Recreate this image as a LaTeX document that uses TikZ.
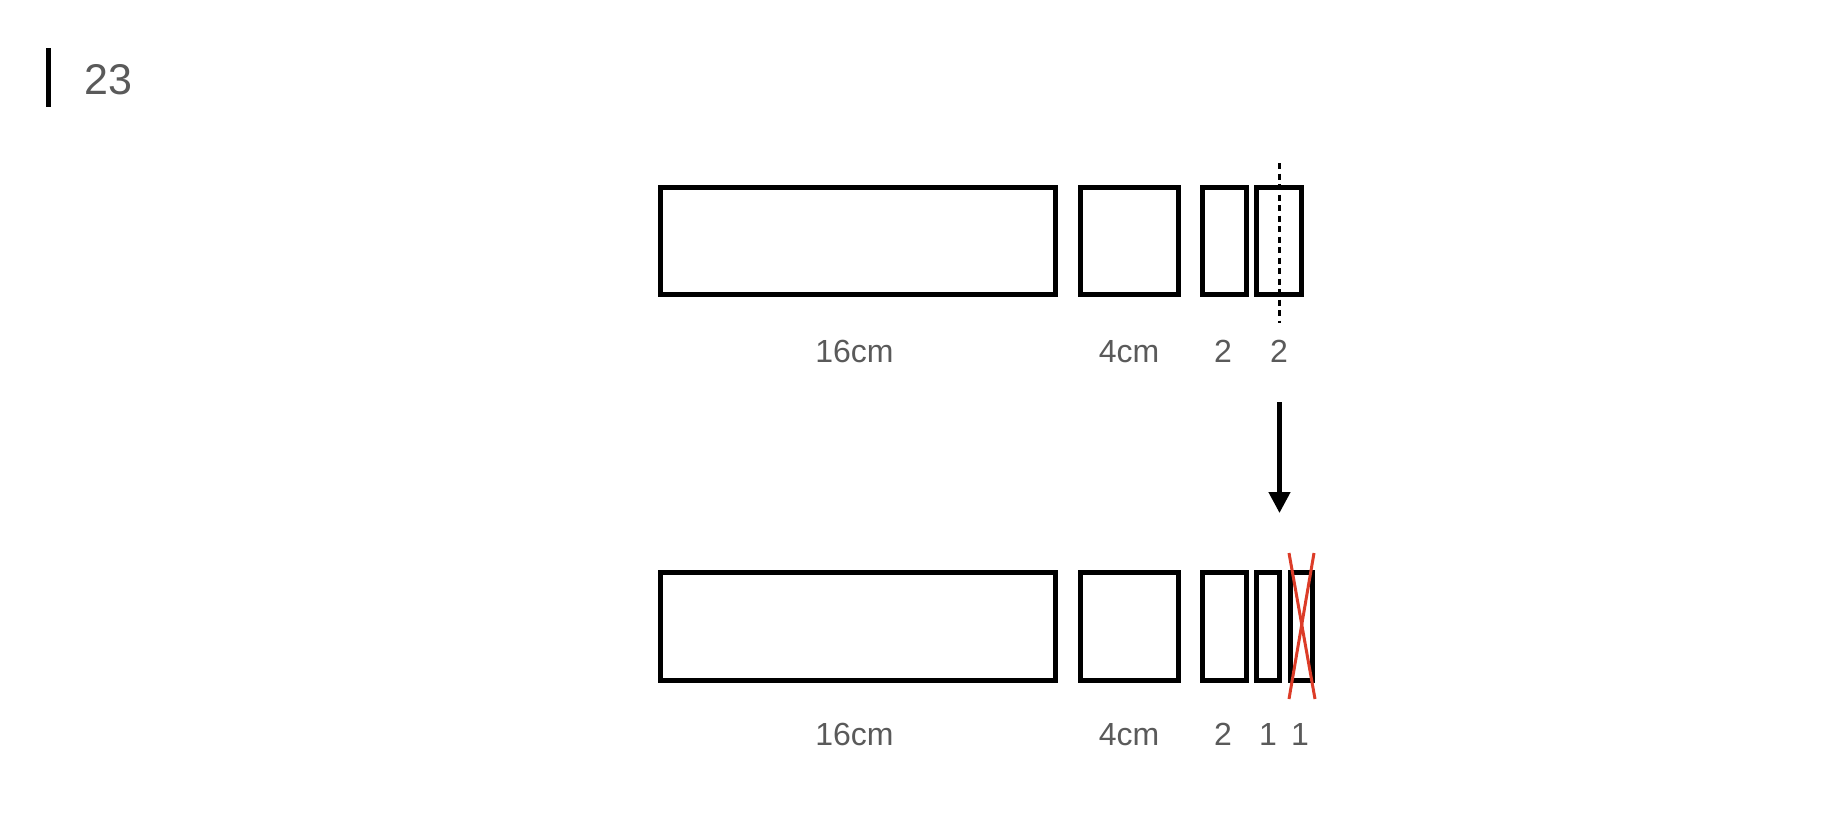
\documentclass[tikz,border=0pt]{standalone}
\usepackage{fontspec}
\setmainfont{Liberation Sans}
\usetikzlibrary{arrows.meta}
\definecolor{txtgray}{HTML}{5A5A5A}
\definecolor{crossred}{HTML}{DC3C28}
\begin{document}
\begin{tikzpicture}[x=1pt,y=-1pt,
  bar/.style={draw=black,line width=5pt,inner sep=0pt,outer sep=0pt},
  lbl/.style={text=txtgray,font=\fontsize{32}{38}\selectfont,anchor=base,inner sep=0pt},
  cutline/.style={draw=black,line width=3pt,dash pattern=on 6pt off 4.5pt},
  crossline/.style={draw=crossred,line width=3pt},
  downarrow/.style={draw=black,line width=4.5pt,-{Triangle[length=21pt,width=21pt]}}]
\useasboundingbox (0,0) rectangle (1848,812);
% header
\coordinate (hb1) at (48.5,48);
\coordinate (hb2) at (48.5,107);
\draw[line width=5pt] (hb1) -- (hb2);
\node[text=txtgray,font=\fontsize{43}{50}\selectfont,anchor=base west,inner sep=0pt] (title) at (84,94) {23};
% top row
\node[bar,minimum width=395pt,minimum height=107pt] (a1) at (858,241) {};
\node[bar,minimum width=98pt,minimum height=107pt] (b1) at (1129.5,241) {};
\node[bar,minimum width=44pt,minimum height=107pt] (c1) at (1224.5,241) {};
\node[bar,minimum width=45pt,minimum height=107pt] (d1) at (1279,241) {};
\node[lbl] (la1) at (854.5,362) {16cm};
\node[lbl] (lb1) at (1129,362) {4cm};
\node[lbl] (lc1) at (1223,362) {2};
\node[lbl] (ld1) at (1279,362) {2};
\coordinate (cutt) at (1279,163);
\coordinate (cutb) at (1279,323);
\draw[cutline] (cutt) -- (cutb);
% arrow
\coordinate (arrs) at (1279.5,402);
\coordinate (arre) at (1279.5,513);
\draw[downarrow] (arrs) -- (arre);
% bottom row
\node[bar,minimum width=395pt,minimum height=108pt] (a2) at (858,626.5) {};
\node[bar,minimum width=98pt,minimum height=108pt] (b2) at (1129.5,626.5) {};
\node[bar,minimum width=44pt,minimum height=108pt] (c2) at (1224.5,626.5) {};
\node[bar,minimum width=23pt,minimum height=108pt] (e2) at (1268,626.5) {};
\node[bar,minimum width=22pt,minimum height=108pt] (f2) at (1301.5,626.5) {};
\node[lbl] (la2) at (854.5,745) {16cm};
\node[lbl] (lb2) at (1129,745) {4cm};
\node[lbl] (lc2) at (1223,745) {2};
\node[lbl] (le2) at (1268,745) {1};
\node[lbl] (lf2) at (1300,745) {1};
% red cross
\coordinate (x1) at (1289,553);
\coordinate (x2) at (1315,699);
\coordinate (x3) at (1314,553);
\coordinate (x4) at (1289,699);
\draw[crossline] (x1) -- (x2);
\draw[crossline] (x3) -- (x4);
\end{tikzpicture}
\end{document}
